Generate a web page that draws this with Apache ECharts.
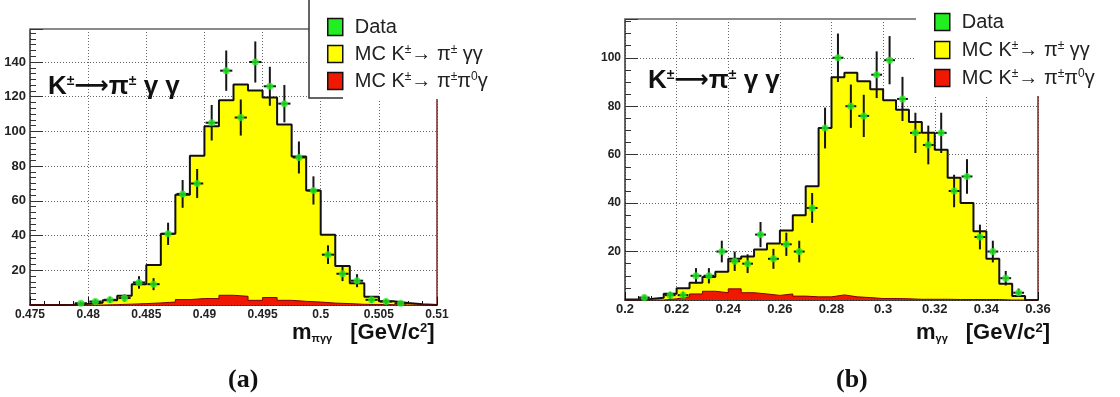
<!DOCTYPE html>
<html>
<head>
<meta charset="utf-8">
<script src="https://cdn.jsdelivr.net/npm/echarts@6/dist/echarts.min.js"></script>
<style>
  html, body { margin: 0; padding: 0; background: #fff; }
  #chart { width: 1120px; height: 397px; }
</style>
</head>
<body>
<div id="chart"></div>
<script>
// (a) m(pi gamma gamma): 28 bins of 1.25 MeV starting at 0.475 GeV
const binLoA = 0.475;
const binWidthA = 0.00125;
const mcSignalA = [0, 0, 0.2, 0.7, 1.3, 2.7, 5.3, 12, 23, 41, 63.5, 86, 103, 118, 127, 123.5, 119.5, 104, 85.5, 66, 40.5, 22.5, 12.5, 4.8, 2.2, 1.2, 0.4, 0];
const mcBackgroundA = [0, 0, 0, 0, 0, 0.2, 0.5, 0.8, 1.2, 1.7, 3.1, 3.7, 3.7, 5.6, 5, 2.7, 4.3, 2.7, 2.1, 1.7, 1.1, 0.8, 0.4, 0.3, 0.2, 0, 0, 0];
const dataA = [null, null, null, 1, 2, 3, 4, 13, 12, 41, 64, 70, 105, 135, 108, 140, 126, 116, 85, 66, 29, 18, 14, 3, 2, 1, null, null];

// (b) m(gamma gamma): 32 bins of 5 MeV starting at 0.2 GeV
const binLoB = 0.2;
const binWidthB = 0.005;
const mcSignalB = [0.2, 0.4, 0.9, 2.6, 4.8, 7.1, 9.5, 11.7, 17, 18, 20.8, 23.3, 28.7, 35, 47, 71, 92, 93.8, 90.3, 87, 82.5, 78.5, 73.5, 69, 62, 50.5, 40, 28.4, 17, 6.7, 1.6, 0];
const mcBackgroundB = [0, 0, 0, 0.5, 1.3, 2.5, 3.6, 3, 4.6, 3, 2.5, 1.9, 2.5, 1.6, 1.3, 1.3, 2.1, 1.3, 1.0, 0.6, 0.6, 0.5, 0.3, 0.3, 0.3, 0.2, 0.2, 0.2, 0.2, 0, 0, 0];
const dataB = [null, 1, null, 2, 2, 10, 10, 20, 16, 15, 27, 17, 23, 20, 38, 71, 100, 80, 76, 93, 99, 83, 69, 64, 69, 45, 51, 26, 20, 9, 3, null];

const seriesNames = ['Data', 'MC K±→ π± γγ', 'MC K±→ π±π0γ'];
const legendLabels = {
  'Data': '{g|}Data',
  'MC K±→ π± γγ': '{g|}MC K{s|±}→ π{s|±} γγ',
  'MC K±→ π±π0γ': '{g|}MC K{s|±}→ π{s|±}π{s|0}γ'
};

const FONT = 'Liberation Sans, Arial, sans-serif';
const YELLOW = '#ffff00';
const RED = '#f01800';
const GREEN = '#22ee22';

// histogram as step outline through the bin edges
function histPoints(lo, w, vals) {
  const pts = vals.map((v, i) => [lo + i * w, v]);
  pts.push([lo + vals.length * w, vals[vals.length - 1]]);
  return pts;
}

function histSeries(name, axis, lo, w, vals, fill, stroke, strokeWidth) {
  return {
    name: name,
    type: 'line',
    step: 'end',
    xAxisIndex: axis,
    yAxisIndex: axis,
    data: histPoints(lo, w, vals),
    symbol: 'none',
    silent: true,
    lineStyle: { color: stroke, width: strokeWidth },
    areaStyle: { color: fill, opacity: 1, origin: 'start' },
    itemStyle: { color: fill }
  };
}

function dataPoints(lo, w, vals) {
  const out = [];
  vals.forEach((v, i) => {
    if (v !== null) out.push([lo + (i + 0.5) * w, v, Math.sqrt(v), w * 0.42]);
  });
  return out;
}

function errorBarSeries(axis, lo, w, vals) {
  return {
    name: 'Data',
    type: 'custom',
    xAxisIndex: axis,
    yAxisIndex: axis,
    data: dataPoints(lo, w, vals),
    z: 5,
    silent: true,
    renderItem: function (params, api) {
      const x = api.value(0), y = api.value(1), e = api.value(2), h = api.value(3);
      const top = api.coord([x, y + e]);
      const bot = api.coord([x, Math.max(y - e, 0)]);
      const l = api.coord([x - h, y]);
      const r = api.coord([x + h, y]);
      const st = { stroke: '#151515', lineWidth: 2 };
      return {
        type: 'group',
        children: [
          { type: 'line', shape: { x1: top[0], y1: top[1], x2: bot[0], y2: bot[1] }, style: st },
          { type: 'line', shape: { x1: l[0], y1: l[1], x2: r[0], y2: r[1] }, style: st }
        ]
      };
    }
  };
}

function markerSeries(axis, lo, w, vals) {
  return {
    name: 'Data',
    type: 'scatter',
    xAxisIndex: axis,
    yAxisIndex: axis,
    data: dataPoints(lo, w, vals).map(p => [p[0], p[1]]),
    symbol: 'circle',
    symbolSize: 7,
    itemStyle: { color: GREEN },
    z: 6,
    silent: true
  };
}

function bottomAxis(grid, min, max, interval, labelSize, margin) {
  return {
    type: 'value', gridIndex: grid, min: min, max: max, interval: interval,
    axisLine: { onZero: false, lineStyle: { color: '#111', width: 1.5 } },
    axisTick: { inside: true, length: 8, lineStyle: { color: '#111' } },
    minorTick: { show: true, splitNumber: 4, length: 4, lineStyle: { color: '#111' } },
    axisLabel: { fontFamily: FONT, fontWeight: 'bold', fontSize: labelSize, color: '#222', margin: margin },
    splitLine: { show: true, lineStyle: { type: [1, 2], color: '#666', width: 1 } }
  };
}

function topAxis(grid, min, max) {
  return {
    type: 'value', gridIndex: grid, min: min, max: max, position: 'top',
    axisLine: { onZero: false, lineStyle: { color: '#8a8a8a', width: 2 } },
    axisTick: { show: false }, axisLabel: { show: false }, splitLine: { show: false }
  };
}

function leftAxis(grid, max, minorSplit, labelSize) {
  return {
    type: 'value', gridIndex: grid, min: 0, max: max, interval: 20,
    axisLine: { show: true, onZero: false, lineStyle: { color: '#333', width: 1.5 } },
    axisTick: { show: true, inside: true, length: 13, lineStyle: { color: '#333' } },
    minorTick: { show: true, splitNumber: minorSplit, length: 6, lineStyle: { color: '#333' } },
    axisLabel: {
      fontFamily: FONT, fontWeight: 'bold', fontSize: labelSize, color: '#222', margin: 4,
      formatter: v => (v > 0 && v % 20 === 0) ? String(v) : ''
    },
    splitLine: { show: true, lineStyle: { type: [1, 2], color: '#666', width: 1 } }
  };
}

function rightAxis(grid, max) {
  return {
    type: 'value', gridIndex: grid, min: 0, max: max, position: 'right',
    axisLine: { show: true, onZero: false, lineStyle: { color: '#7a2626', width: 1.5 } },
    axisTick: { show: false }, axisLabel: { show: false }, splitLine: { show: false }
  };
}

function legendFor(left, padTop, gap, padRight) {
  return {
    orient: 'vertical',
    left: left,
    top: 0,
    padding: [padTop, padRight, 8, 18],
    itemGap: gap,
    itemWidth: 15,
    itemHeight: 17,
    backgroundColor: '#fff',
    selectedMode: false,
    data: [
      { name: seriesNames[0], icon: 'rect', itemStyle: { color: GREEN, borderColor: '#111', borderWidth: 1.5 } },
      { name: seriesNames[1], icon: 'rect', itemStyle: { color: YELLOW, borderColor: '#111', borderWidth: 1.5 } },
      { name: seriesNames[2], icon: 'rect', itemStyle: { color: RED, borderColor: '#111', borderWidth: 1.5 } }
    ],
    formatter: name => legendLabels[name],
    textStyle: {
      fontFamily: FONT, fontSize: 20, color: '#222',
      rich: {
        g: { width: 7 },
        s: { fontSize: 12, verticalAlign: 'top', fontFamily: FONT, color: '#222' }
      }
    }
  };
}

const decayRich = {
  k: { fontFamily: FONT, fontWeight: 'bold', fontSize: 26, color: '#111' },
  a: { fontFamily: 'DejaVu Sans, sans-serif', fontWeight: 'bold', fontSize: 24, color: '#111' },
  s: { fontFamily: FONT, fontWeight: 'bold', fontSize: 14, color: '#111', verticalAlign: 'top' }
};
const decayText = '{k|K}{s|±}{a|⟶}{k|π}{s|±}{k| γ γ}';

const unitRich = {
  m: { fontFamily: FONT, fontSize: 22, color: '#111' },
  gap: { width: 18 },
  sub: { fontFamily: FONT, fontSize: 11, color: '#111', verticalAlign: 'bottom' },
  sup: { fontFamily: FONT, fontSize: 13, color: '#111', verticalAlign: 'top' }
};

const chart = echarts.init(document.getElementById('chart'), null, { renderer: 'canvas' });

chart.setOption({
  animation: false,
  backgroundColor: '#fff',
  grid: [
    { left: 30, top: 29, width: 407, height: 276, containLabel: false },
    { left: 625, top: 19, width: 413, height: 281, containLabel: false }
  ],
  xAxis: [
    bottomAxis(0, 0.475, 0.51, 0.005, 12, 4),
    bottomAxis(1, 0.2, 0.36, 0.02, 13, 3),
    topAxis(0, 0.475, 0.51),
    topAxis(1, 0.2, 0.36)
  ],
  yAxis: [
    leftAxis(0, 159, 6, 13),
    leftAxis(1, 116, 4, 12),
    rightAxis(0, 159),
    rightAxis(1, 116)
  ],
  legend: [
    legendFor(309, 17, 7, 70),
    legendFor(916, 12, 8, 10)
  ],
  title: [
    { text: decayText, left: 48, top: 74, padding: 0, textStyle: { rich: decayRich } },
    { text: decayText, left: 648, top: 68, padding: 0, textStyle: { rich: decayRich } },
    { text: '{m|m}{sub|πγγ}{gap|}{m|[GeV/c}{sup|2}{m|]}', left: 292, top: 322, padding: 0, textStyle: { rich: unitRich } },
    { text: '{m|m}{sub|γγ}{gap|}{m|[GeV/c}{sup|2}{m|]}', left: 916, top: 322, padding: 0, textStyle: { rich: unitRich } },
    { text: '(a)', left: 228, top: 367, padding: 0, textStyle: { fontFamily: 'Liberation Serif, Times New Roman, serif', fontWeight: 'bold', fontSize: 26, color: '#111' } },
    { text: '(b)', left: 836, top: 367, padding: 0, textStyle: { fontFamily: 'Liberation Serif, Times New Roman, serif', fontWeight: 'bold', fontSize: 26, color: '#111' } }
  ],
  graphic: [
    {
      type: 'polyline', z: 100, silent: true,
      shape: { points: [[309, 0], [309, 98], [343, 98]] },
      style: { stroke: '#333', lineWidth: 1.5, fill: null }
    }
  ],
  series: [
    histSeries(seriesNames[1], 0, binLoA, binWidthA, mcSignalA, YELLOW, '#111', 2),
    histSeries(seriesNames[2], 0, binLoA, binWidthA, mcBackgroundA, RED, '#7a0000', 1),
    errorBarSeries(0, binLoA, binWidthA, dataA),
    markerSeries(0, binLoA, binWidthA, dataA),
    histSeries(seriesNames[1], 1, binLoB, binWidthB, mcSignalB, YELLOW, '#111', 2),
    histSeries(seriesNames[2], 1, binLoB, binWidthB, mcBackgroundB, RED, '#7a0000', 1),
    errorBarSeries(1, binLoB, binWidthB, dataB),
    markerSeries(1, binLoB, binWidthB, dataB)
  ]
});
</script>
</body>
</html>
